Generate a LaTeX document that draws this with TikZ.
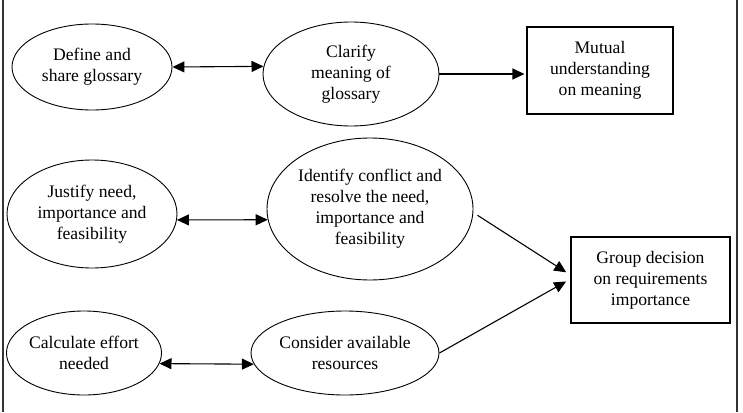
\documentclass[tikz,border=0pt]{standalone}
\usepackage{fontspec}
\setmainfont{Liberation Serif}
\usepackage{tikz}
\usetikzlibrary{positioning,shapes.geometric,arrows.meta}

\begin{document}
\begin{tikzpicture}[
  x=1pt,y=-1pt,
  every node/.style={font=\fontsize{17.6}{21}\selectfont,align=center},
  bubble/.style n args={2}{ellipse,draw,line width=0.9pt,inner sep=0pt,minimum width=#1,minimum height=#2},
  outcome/.style n args={2}{rectangle,draw,line width=1.1pt,inner sep=0pt,minimum width=#1,minimum height=#2},
  link/.style={line width=1.1pt,-{Triangle[length=12pt,width=11pt]}},
  both/.style={line width=1.1pt,{Triangle[length=12pt,width=11pt]}-{Triangle[length=12pt,width=11pt]}},
]
\useasboundingbox (0,0) rectangle (743,412);
\draw[line width=1.6pt,black!80] (3,0) -- (3,412);
\draw[line width=1.6pt,black!80] (737,0) -- (737,412);

% glossary row
\node (define) [bubble={160pt}{86pt}] at (92,67) {Define and\\share glossary};
\node (clarify) [bubble={176pt}{104pt}] at (351,74) {Clarify\\meaning of\\glossary};
\node (mutual) [outcome={146pt}{87pt}] at (600,70.5) {Mutual\\understanding\\on meaning};
\draw[both] (define.east) to (clarify.175);
\draw[link] (clarify.east) to ([xshift=-2pt]clarify.east -| mutual.west);

% importance row
\node (justify) [bubble={170pt}{108pt}] at (92,214) {Justify need,\\importance and\\feasibility};
\node (conflict) [bubble={206pt}{142pt}] at (370,209) {Identify conflict and\\resolve the need,\\importance and\\feasibility};
\draw[both] (justify.-4) to (conflict.186);

% effort row
\node (effort) [bubble={154pt}{84pt}] at (84,353) {Calculate effort\\needed};
\node (resources) [bubble={188pt}{84pt}] at (345,353) {Consider available\\resources};
\draw[both] (effort.-8) to (resources.187);

\node (group) [outcome={159pt}{86pt}] at (650.5,280) {Group decision\\on requirements\\importance};
\draw[link,shorten <=5pt,shorten >=5pt] (conflict.-2) to ([yshift=5pt]group.west);
\draw[link,shorten >=5pt] (resources.east) to ([yshift=1pt]group.west);
\end{tikzpicture}
\end{document}
